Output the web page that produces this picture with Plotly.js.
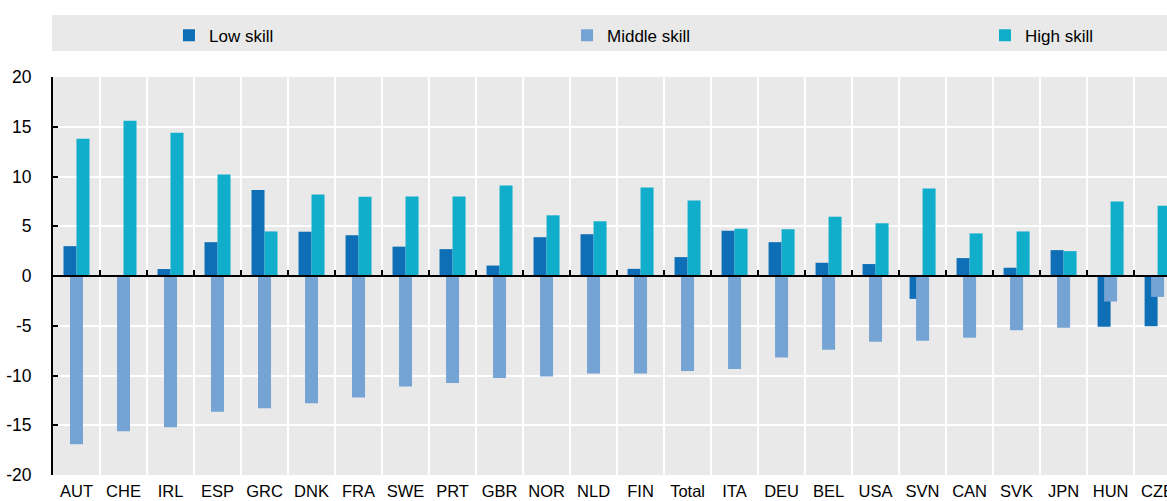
<!DOCTYPE html>
<html>
<head>
<meta charset="utf-8">
<script src="https://cdn.plot.ly/plotly-3.0.1.min.js"></script>
<style>html,body{margin:0;padding:0;background:#fff;}#chart{width:1167px;height:501px;}</style>
</head>
<body>
<div id="chart"></div>
<script>
const countries = ["AUT","CHE","IRL","ESP","GRC","DNK","FRA","SWE","PRT","GBR","NOR","NLD","FIN","Total","ITA","DEU","BEL","USA","SVN","CAN","SVK","JPN","HUN","CZE"];
const lowSkill    = [3.0, null, 0.7, 3.4, 8.65, 4.45, 4.1, 2.95, 2.7, 1.05, 3.9, 4.2, 0.72, 1.9, 4.55, 3.4, 1.33, 1.2, -2.3, 1.8, 0.83, 2.6, -5.1, -5.05];
const middleSkill = [-16.9, -15.6, -15.2, -13.65, -13.3, -12.8, -12.2, -11.1, -10.75, -10.25, -10.1, -9.8, -9.8, -9.55, -9.35, -8.2, -7.4, -6.6, -6.5, -6.2, -5.45, -5.2, -2.57, -2.1];
const highSkill   = [13.8, 15.6, 14.4, 10.2, 4.48, 8.2, 7.97, 8.0, 8.0, 9.1, 6.1, 5.5, 8.9, 7.6, 4.75, 4.7, 5.96, 5.3, 8.8, 4.28, 4.48, 2.5, 7.5, 7.07];
const seriesNames = ["Low skill", "Middle skill", "High skill"];
const yTickVals = [-20, -15, -10, -5, 0, 5, 10, 15, 20];
const yTickText = ["-20", "-15", "-10", "-5", "0", "5", "10", "15", "20"];

const FONT = '"Liberation Sans", Arial, sans-serif';
const BW = 0.2766;

const traces = [
  {type:'bar', name:seriesNames[0], x:countries, y:lowSkill, width:BW, offset:-BW,
   marker:{color:'#0e6fb7'}, legend:'legend'},
  {type:'bar', name:seriesNames[1], x:countries, y:middleSkill, width:BW, offset:-BW/2,
   marker:{color:'#74a3d4'}, legend:'legend2'},
  {type:'bar', name:seriesNames[2], x:countries, y:highSkill, width:BW, offset:0,
   marker:{color:'#10aecb'}, legend:'legend3'},
  {type:'scatter', x:[], y:[], xaxis:'x2', yaxis:'y', showlegend:false, hoverinfo:'skip'}
];

const boundaries = countries.slice(0, -1).map((c, i) => i + 0.5);
const legFont = {family:FONT, size:17, color:'#000'};
const legBase = {orientation:'h', xanchor:'left', y:1.104, yanchor:'middle',
                 bgcolor:'rgba(0,0,0,0)', font:legFont};

const layout = {
  width:1167, height:501,
  margin:{l:53, r:0, t:77, b:26, pad:0},
  paper_bgcolor:'#ffffff',
  plot_bgcolor:'#e9e9e9',
  font:{family:FONT, size:17, color:'#000'},
  barmode:'overlay',
  showlegend:true,
  legend:Object.assign({}, legBase, {x:0.1041}),
  legend2:Object.assign({}, legBase, {x:0.4614}),
  legend3:Object.assign({}, legBase, {x:0.8366}),
  xaxis:{type:'category', range:[-0.5, 23.2], tickson:'boundaries', ticks:'', tickangle:0,
         showgrid:true, gridcolor:'#ffffff', gridwidth:2, showline:false, zeroline:false,
         ticklabelstandoff:4,
         tickfont:{family:FONT, size:16.5, color:'#000'}, fixedrange:true},
  xaxis2:{overlaying:'x', anchor:'free', position:0.5, range:[-0.5, 23.2], type:'linear',
          tickmode:'array', tickvals:boundaries, ticks:'inside', ticklen:5, tickwidth:2,
          tickcolor:'#000', showticklabels:false, showgrid:false, showline:true,
          linecolor:'#000', linewidth:2, zeroline:false, fixedrange:true},
  yaxis:{range:[-20, 20], tickmode:'array', tickvals:yTickVals, ticktext:yTickText,
         showgrid:true, gridcolor:'#ffffff', gridwidth:2,
         zeroline:true, zerolinecolor:'#000', zerolinewidth:2,
         showline:true, linecolor:'#000', linewidth:2, ticks:'inside', ticklen:5,
         tickwidth:2, tickcolor:'#000', ticklabelstandoff:16,
         tickfont:{family:FONT, size:17.5, color:'#000'}, fixedrange:true},
  shapes:[{type:'rect', xref:'paper', yref:'paper', x0:-0.001, x1:1, y0:1.0653, y1:1.1558,
           fillcolor:'#e9e9e9', line:{width:0}, layer:'below'}]
};

Plotly.newPlot('chart', traces, layout, {displayModeBar:false, staticPlot:true});
</script>
</body>
</html>
